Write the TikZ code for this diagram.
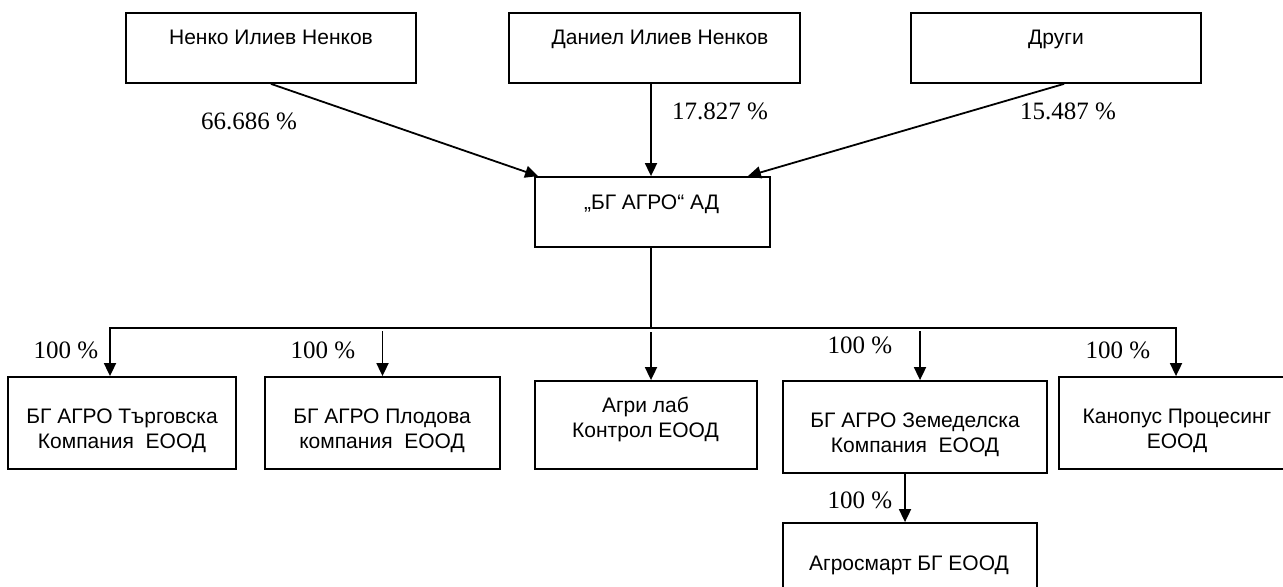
\documentclass[tikz,border=0pt]{standalone}
\usepackage{fontspec}
\setmainfont{Liberation Sans}
\newfontfamily\pctfont{Liberation Serif}
\usetikzlibrary{arrows.meta}

\begin{document}
\begin{tikzpicture}[x=0.5pt,y=-0.5pt,
  box/.style={draw,line width=0.9pt,inner sep=0pt},
  txt/.style={inner sep=0pt,align=center,font=\fontsize{10.5}{12.5}\selectfont},
  pct/.style={inner sep=0pt,anchor=base,font=\pctfont\fontsize{12.5}{14}\selectfont},
  tip/.tip={Triangle[length=6.5pt,width=6pt]},
  arr/.style={line width=0.9pt,-tip}]
\useasboundingbox (0,0) rectangle (1283,587);
\clip (0,0) rectangle (1283,587);
\node[box,minimum width=145pt,minimum height=35pt] (nenko) at (271,48) {};
\node[box,minimum width=145.5pt,minimum height=35pt] (daniel) at (654.5,48) {};
\node[box,minimum width=145pt,minimum height=35pt] (drugi) at (1056,48) {};
\node[box,minimum width=117.5pt,minimum height=35pt] (bgagro) at (652.5,212) {};
\node[txt,anchor=base] (nenkoT) at (271,45) {Ненко Илиев Ненков};
\node[txt,anchor=base] (danielT) at (660,45) {Даниел Илиев Ненков};
\node[txt,anchor=base] (drugiT) at (1056,45) {Други};
\node[txt,anchor=base] (bgagroT) at (651.5,210) {„БГ АГРО“ АД};
\node[box,minimum width=114pt,minimum height=46pt] (targ) at (122,423) {};
\node[box,minimum width=117.5pt,minimum height=46pt] (plod) at (382.5,423) {};
\node[box,minimum width=111pt,minimum height=44pt] (agri) at (646,425) {};
\node[box,minimum width=131.75pt,minimum height=46pt] (zem) at (915,427) {};
\node[box,minimum width=118pt,minimum height=46pt] (kan) at (1177,423) {};
\node[box,minimum width=126.75pt,minimum height=35pt] (agros) at (910,558) {};
\node[txt] (targT) at (122,431) {БГ АГРО Търговска\\Компания\ \ ЕООД};
\node[txt] (plodT) at (382,431) {БГ АГРО Плодова\\компания\ \ ЕООД};
\node[txt] (agriT) at (645.5,419.5) {Агри лаб\\Контрол ЕООД};
\node[txt] (zemT) at (915,435) {БГ АГРО Земеделска\\Компания\ \ ЕООД};
\node[txt] (kanT) at (1177,431) {Канопус Процесинг\\ЕООД};
\node[txt,anchor=base] (agrosT) at (909,570) {Агросмарт БГ ЕООД};
\coordinate (spine) at (651,328);
\coordinate (busL) at (110,328);
\coordinate (busR) at (1176,328);
\draw[arr] (nenko.south) -- ([xshift=2pt]bgagro.north west);
\draw[arr] (spine |- daniel.south) -- (spine |- bgagro.north);
\draw[arr] ([xshift=4pt]drugi.south) -- ([xshift=-11.5pt]bgagro.north east);
\draw[line width=0.9pt] (spine |- bgagro.south) -- (spine);
\draw[line width=0.9pt,tip-tip] (busL |- targ.north) -- (busL) -- (busR) -- (busR |- kan.north);
\draw[arr] ([yshift=22.5pt]plod.north) -- (plod.north);
\draw[arr] ([yshift=-2pt]spine) -- (spine |- agri.north);
\draw[arr] ([xshift=2.5pt,yshift=24.5pt]zem.north) -- ([xshift=2.5pt]zem.north);
\draw[arr] ([xshift=-2.5pt]agros.north |- zem.south) -- ([xshift=-2.5pt]agros.north);
\node[pct] (p1) at (249,130) {66.686 \%};
\node[pct] (p2) at (720,120) {17.827 \%};
\node[pct] (p3) at (1068,120) {15.487 \%};
\node[pct] (p4) at (66,358) {100 \%};
\node[pct] (p5) at (323,358) {100 \%};
\node[pct] (p6) at (860,353) {100 \%};
\node[pct] (p7) at (1118,358) {100 \%};
\node[pct] (p8) at (860,508) {100 \%};
\end{tikzpicture}
\end{document}
